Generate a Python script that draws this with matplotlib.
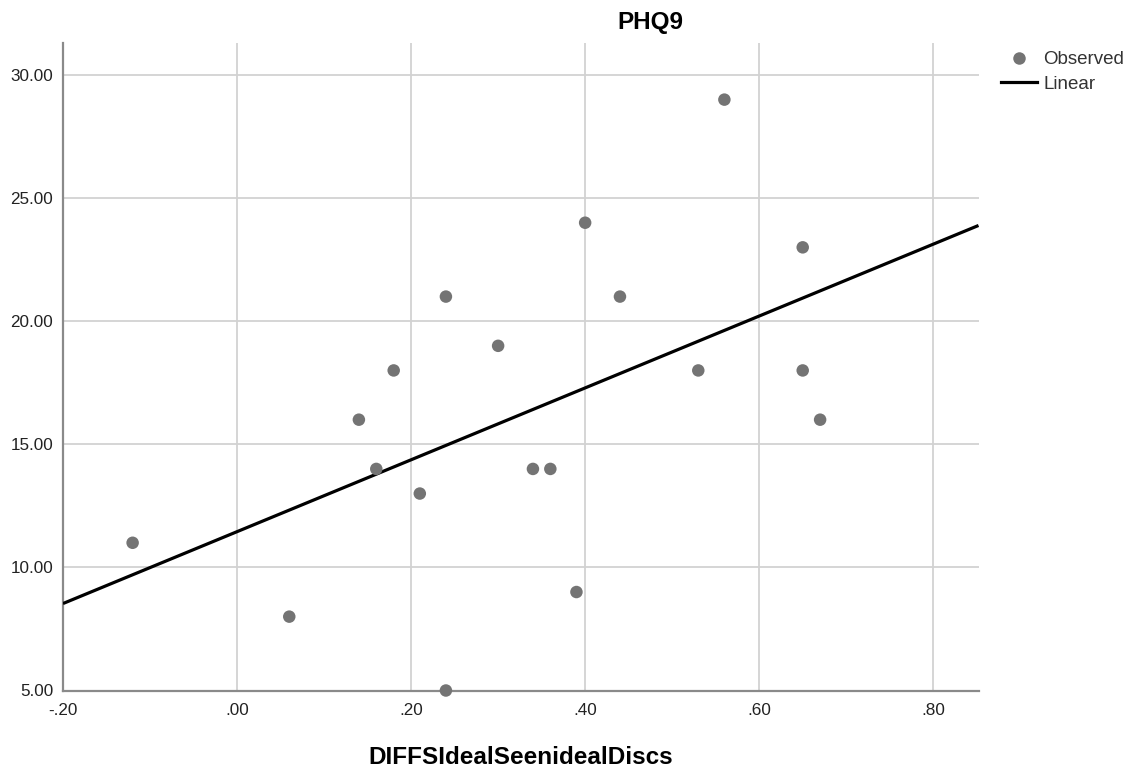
import numpy as np
import matplotlib
matplotlib.use("Agg")
import matplotlib.pyplot as plt
from matplotlib.lines import Line2D
from matplotlib.ticker import FuncFormatter

plt.rcParams['font.family'] = ['Liberation Sans', 'DejaVu Sans']

# Data
diffs = [-0.12, 0.06, 0.14, 0.16, 0.18, 0.21, 0.24, 0.24, 0.30, 0.34,
         0.36, 0.39, 0.40, 0.44, 0.53, 0.56, 0.65, 0.65, 0.67]
phq9 = [11, 8, 16, 14, 18, 13, 21, 5, 19, 14,
        14, 9, 24, 21, 18, 29, 23, 18, 16]
x_ticks = [-0.2, 0.0, 0.2, 0.4, 0.6, 0.8]
y_ticks = [5, 10, 15, 20, 25, 30]
title = "PHQ9"
x_label = "DIFFSIdealSeenidealDiscs"
legend_labels = ["Observed", "Linear"]

W, H = 1134, 774
fig = plt.figure(figsize=(W / 100, H / 100), dpi=100)
ax = fig.add_axes([63 / W, 1 - 690.5 / H, (978.5 - 63) / W, (690.5 - 43) / H])

xmin, xmax = -0.2, 0.852
ymin, ymax = 5.0, 31.3
ax.set_xlim(xmin, xmax)
ax.set_ylim(ymin, ymax)

x = np.array(diffs)
y = np.array(phq9, dtype=float)
slope, intercept = np.polyfit(x, y, 1)
xl = np.array([xmin, xmax])
ax.plot(xl, intercept + slope * xl, color='black', lw=2.3, zorder=3,
        solid_capstyle='butt', clip_on=True)
ax.scatter(x, y, s=(12.5 * 0.72) ** 2, color='#747474', edgecolors='none',
           zorder=4, clip_on=False)

ax.set_xticks(x_ticks)
ax.set_yticks(y_ticks)


def xfmt(v, pos):
    s = f"{v:.2f}"
    return s.replace("0.", ".", 1) if abs(v) < 1 else s


ax.xaxis.set_major_formatter(FuncFormatter(xfmt))
ax.yaxis.set_major_formatter(FuncFormatter(lambda v, p: f"{v:.2f}"))
ax.tick_params(axis='both', length=0, labelsize=12.3, colors='#222222')
ax.tick_params(axis='x', pad=9)
ax.tick_params(axis='y', pad=7)

ax.grid(True, color='#d2d2d2', lw=1.3, zorder=0)
ax.set_axisbelow(True)
for s in ['top', 'right']:
    ax.spines[s].set_visible(False)
for s in ['left', 'bottom']:
    ax.spines[s].set_color('#8a8a8a')
    ax.spines[s].set_linewidth(1.6)

fig.text(650 / W, 1 - 22 / H, title, ha='center', va='center',
         fontsize=17.5, fontweight='bold')
fig.text(520.5 / W, 1 - 757 / H, x_label, ha='center', va='center',
         fontsize=17.5, fontweight='bold')

handles = [Line2D([], [], marker='o', linestyle='none', color='#747474',
                  markersize=9, markeredgewidth=0),
           Line2D([], [], color='black', lw=2.3)]
fig.legend(handles, legend_labels, loc='upper left',
           bbox_to_anchor=(1001 / W, 1 - 51 / H), frameon=False,
           fontsize=13.5, handlelength=1.9, handletextpad=0.35,
           labelspacing=0.4, borderpad=0, borderaxespad=0,
           labelcolor='#333333')

fig.savefig("out.png", dpi=100)
